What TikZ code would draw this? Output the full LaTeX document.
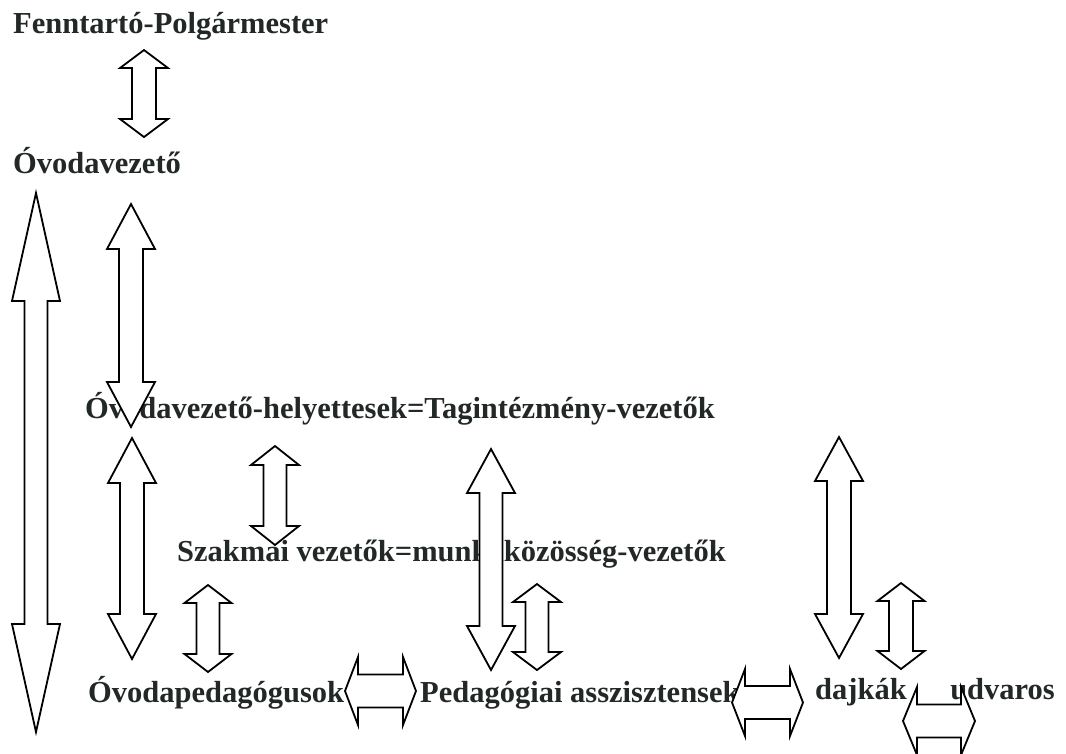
\documentclass[tikz,border=0pt]{standalone}
\usepackage{fontspec}
\setmainfont{Liberation Serif}
\usepackage{tikz}

\definecolor{inktext}{RGB}{34,40,38}

% double block arrows: centre, from, to, head length, head half width, shaft half width
\newcommand{\vdarrow}[6]{%
	\draw[blockarrow] (#1,#2) -- ({#1+#5},{#2+#4}) -- ({#1+#6},{#2+#4})
		-- ({#1+#6},{#3-#4}) -- ({#1+#5},{#3-#4}) -- (#1,#3)
		-- ({#1-#5},{#3-#4}) -- ({#1-#6},{#3-#4}) -- ({#1-#6},{#2+#4})
		-- ({#1-#5},{#2+#4}) -- cycle;}
\newcommand{\hdarrow}[6]{%
	\draw[blockarrow] (#2,#1) -- ({#2+#4},{#1-#5}) -- ({#2+#4},{#1-#6})
		-- ({#3-#4},{#1-#6}) -- ({#3-#4},{#1-#5}) -- (#3,#1)
		-- ({#3-#4},{#1+#5}) -- ({#3-#4},{#1+#6}) -- ({#2+#4},{#1+#6})
		-- ({#2+#4},{#1+#5}) -- cycle;}

\begin{document}
\begin{tikzpicture}[x=1pt, y=-1pt,
		level/.style={font=\fontsize{30.5}{36}\selectfont\bfseries, text=inktext, inner sep=0pt},
		blockarrow/.style={draw=black, fill=white, line width=1.8pt, line join=miter}]
	\useasboundingbox (0,0) rectangle (1066,753);
	\clip (0,0) rectangle (1066,753);
	\node [level, anchor=base west] (fenntarto) at (13,33) {Fenntartó-Polgármester};
	\node [level, anchor=base west] (vezeto) at (13,173) {Óvodavezető};
	\node [level, anchor=base west] (helyettes) at (85,418) {Óvodavezető-helyettesek=Tagintézmény-vezetők};
	\node [level, anchor=base west] (szakmai) at (177,561) {Szakmai vezetők=munkaközösség-vezetők};
	\node [level, anchor=base west] (pedagogus) at (88,702) {Óvodapedagógusok};
	\node [level, anchor=base west] (asszisztens) at (420,702) {Pedagógiai asszisztensek};
	\node [level, anchor=base west] (dajka) at (815,699) {dajkák};
	\node [level, anchor=base east] (udvaros) at (1055,699) {udvaros};
	% vertical arrows
	\vdarrow{144}{50}{137}{18}{24}{12}
	\vdarrow{36}{193}{732}{108}{24}{11.5}
	\vdarrow{131}{204}{427}{45}{24}{12}
	\vdarrow{132}{438}{659}{45}{24}{12}
	\vdarrow{275}{446}{545}{19}{24}{11.5}
	\vdarrow{208}{585}{672}{18}{23.5}{11.5}
	\vdarrow{491}{449}{670}{44}{24}{11.5}
	\vdarrow{537}{584}{670}{18}{24}{11.5}
	\vdarrow{839}{437}{658}{44}{24}{12}
	\vdarrow{901}{583}{669}{18}{23.5}{12}
	% horizontal arrows
	\hdarrow{691}{345}{416}{13}{34}{16.5}
	\hdarrow{702.5}{732}{803}{13}{33.5}{16.5}
	\hdarrow{721}{903}{975}{14}{34}{16.5}
\end{tikzpicture}
\end{document}
